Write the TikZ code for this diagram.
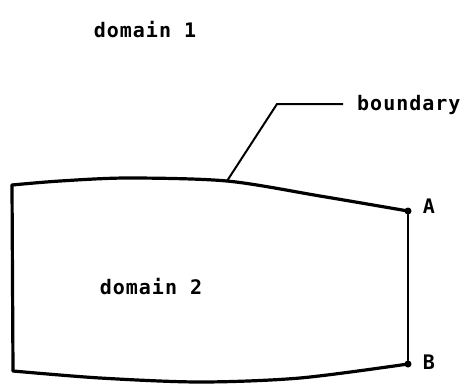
\documentclass[tikz,border=0pt]{standalone}
\usepackage{fontspec}
\newfontfamily\labelfont[LetterSpace=5]{DejaVu Sans Mono Bold}
\begin{document}
\begin{tikzpicture}[x=1pt,y=-1pt,
  lbl/.style={font=\labelfont\fontsize{20}{22}\selectfont, inner sep=0pt},
  edge/.style={line width=3.2pt, line cap=round, line join=round},
  thin edge/.style={line width=2.2pt, line cap=round},
  leader/.style={line width=2pt},
  pt/.style={circle, fill=black, inner sep=0pt, minimum size=7pt}]
\useasboundingbox (0,0) rectangle (466,384);
% corners
\node[pt] (A) at (408,211) {};
\node[pt] (B) at (408,364) {};
\coordinate (TL) at (12,185);
\coordinate (BL) at (13,371);
\coordinate (foot) at (227,181);
\coordinate (knee) at (277,104);
\coordinate (tip) at (343,104);
% boundary
\draw[edge] plot[smooth, tension=0.5] coordinates {(12,185) (60,181) (128,178) (227,181) (320,196) (408,211)};
\draw[edge] plot[smooth, tension=0.5] coordinates {(13,371) (100,378) (200,382) (300,378) (408,364)};
\draw[edge] (TL) -- (BL);
\draw[thin edge] (A) -- (B);
% leader
\draw[leader] (foot) -- (knee) -- (tip);
% labels
\node[lbl] (d1) at (145,30) {domain 1};
\node[lbl] (d2) at (151,287) {domain 2};
\node[lbl, anchor=west] (bd) at (357,105) {boundary};
\node[lbl] (la) at (429,206) {A};
\node[lbl] (lb) at (429,362) {B};
\end{tikzpicture}
\end{document}
